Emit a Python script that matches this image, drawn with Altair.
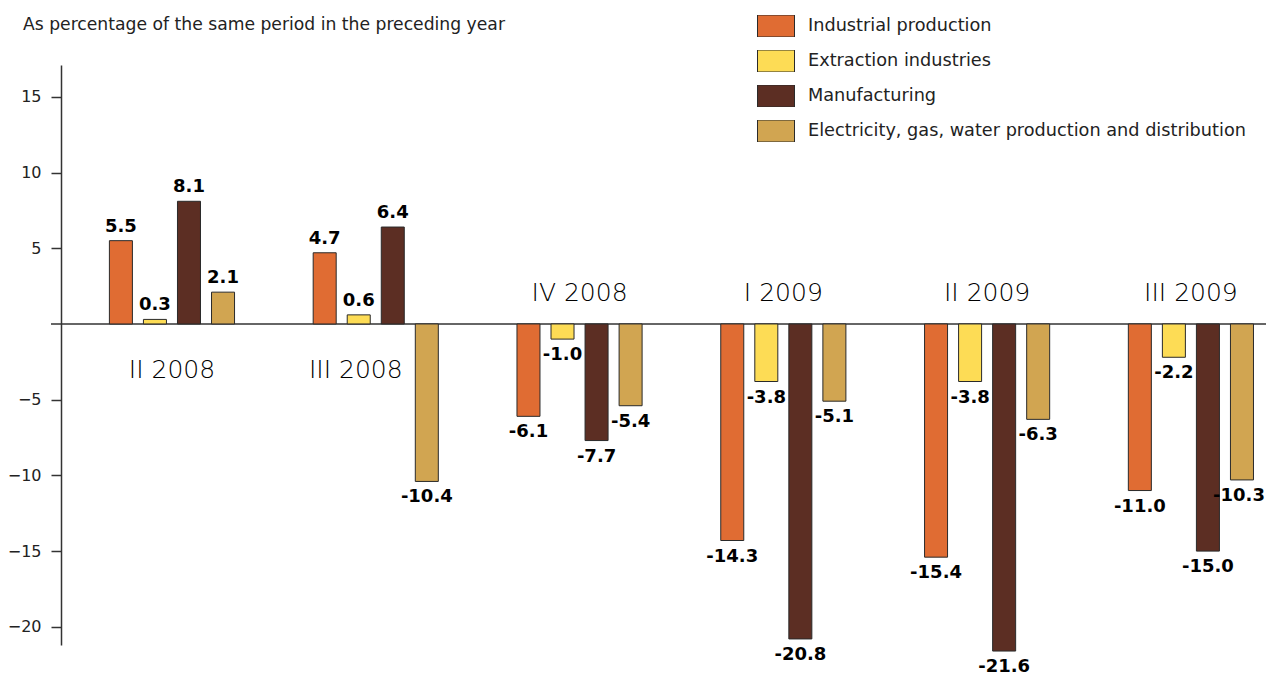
import altair as alt
import pandas as pd

quarters = ["II 2008", "III 2008", "IV 2008", "I 2009", "II 2009", "III 2009"]
series = [
    "Industrial production",
    "Extraction industries",
    "Manufacturing",
    "Electricity, gas, water production and distribution",
]
industrial = [5.5, 4.7, -6.1, -14.3, -15.4, -11.0]
extraction = [0.3, 0.6, -1.0, -3.8, -3.8, -2.2]
manufacturing = [8.1, 6.4, -7.7, -20.8, -21.6, -15.0]
electricity = [2.1, -10.4, -5.4, -5.1, -6.3, -10.3]
colors = ["#E06C33", "#FDDC55", "#5C2E23", "#D1A551"]
y_ticks = [-20, -15, -10, -5, 5, 10, 15]
subtitle = "As percentage of the same period in the preceding year"

rows = []
for s, vals in zip(series, [industrial, extraction, manufacturing, electricity]):
    for q, v in zip(quarters, vals):
        edge = "edge" if (q == quarters[-1] and s == series[-1]) else "inner"
        rows.append({"quarter": q, "series": s, "value": v, "label": f"{v:.1f}", "edge": edge})
df = pd.DataFrame(rows)

lab_df = pd.DataFrame({
    "quarter": quarters,
    "pos": ["below" if v > 0 else "above" for v in industrial],
    "shift": ["left" if e < 0 and i > 0 else "none" for i, e in zip(industrial, electricity)],
})

FONT = "DejaVu Sans"
VFONT = "DejaVu Sans"
W, H = 1205, 580

x_enc = alt.X("quarter:N", sort=quarters,
              scale=alt.Scale(paddingInner=0.263, paddingOuter=0.088, align=1),
              axis=None)
xoff_enc = alt.XOffset("series:N", sort=series,
                       scale=alt.Scale(paddingInner=0.324, paddingOuter=0.368))
y_scale = alt.Scale(domain=[-21.2, 17.1], nice=False, zero=False)

base = alt.Chart(df)

bars = base.mark_bar(stroke="#2a2a2a", strokeWidth=1, opacity=1).encode(
    x=x_enc,
    xOffset=xoff_enc,
    y=alt.Y("value:Q", scale=y_scale, title=None,
            axis=alt.Axis(values=y_ticks, grid=False, domainColor="#333",
                          domainWidth=1.5, tickColor="#333", tickWidth=1.5,
                          tickSize=10, labelFontSize=16, labelFont=FONT,
                          labelColor="#222", labelPadding=10)),
    y2=alt.datum(0),
    color=alt.Color("series:N", sort=series,
                    scale=alt.Scale(domain=series, range=colors),
                    legend=alt.Legend(
                        title=None, orient="none", legendX=696, legendY=-50,
                        symbolType="M-1,-0.595L1,-0.595L1,0.595L-1,0.595Z",
                        symbolSize=1369, symbolStrokeColor="#2a2a2a",
                        symbolStrokeWidth=1, symbolOpacity=1,
                        clipHeight=22, rowPadding=13,
                        labelFontSize=17.7, labelFont=FONT, labelColor="#222",
                        labelOffset=13, labelLimit=600)),
)

label_enc = dict(x=x_enc, xOffset=xoff_enc, y=alt.Y("value:Q", scale=y_scale), text="label:N")

pos_labels = base.transform_filter("datum.value >= 0").mark_text(
    baseline="alphabetic", dy=-9, fontWeight="bold", fontSize=18, font=VFONT, color="#000"
).encode(**label_enc)

neg_labels = base.transform_filter("datum.value < 0 && datum.edge == 'inner'").mark_text(
    baseline="alphabetic", dy=21, fontWeight="bold", fontSize=18, font=VFONT, color="#000"
).encode(**label_enc)

neg_edge_labels = base.transform_filter("datum.value < 0 && datum.edge == 'edge'").mark_text(
    baseline="alphabetic", dy=21, dx=-3, fontWeight="bold", fontSize=18, font=VFONT, color="#000"
).encode(**label_enc)

zero = alt.Chart(pd.DataFrame({"z": [0]})).mark_rule(color="#333", strokeWidth=1.5).encode(
    y=alt.Y("z:Q", scale=y_scale), x=alt.value(-10), x2=alt.value(W + 10))

lab_base = alt.Chart(lab_df)
cat_style = dict(baseline="alphabetic", fontSize=25, font=FONT, fontWeight=300, color="#000")
cat_above = lab_base.transform_filter("datum.pos == 'above'").mark_text(
    dy=-23, **cat_style).encode(x=x_enc, y=alt.datum(0), text="quarter:N")
cat_below = lab_base.transform_filter("datum.pos == 'below' && datum.shift == 'none'").mark_text(
    dy=54, **cat_style).encode(x=x_enc, y=alt.datum(0), text="quarter:N")
cat_below_shift = lab_base.transform_filter("datum.pos == 'below' && datum.shift == 'left'").mark_text(
    dy=54, dx=-20, **cat_style).encode(x=x_enc, y=alt.datum(0), text="quarter:N")

title = alt.Chart(pd.DataFrame({"t": [subtitle]})).mark_text(
    align="left", baseline="middle", fontSize=17.2, font=FONT, color="#222"
).encode(x=alt.value(-38), y=alt.value(-40), text="t:N")

chart = alt.layer(
    zero, bars, pos_labels, neg_labels, neg_edge_labels,
    cat_above, cat_below, cat_below_shift, title
).properties(
    width=W, height=H,
    autosize=alt.AutoSizeParams(type="none"),
    padding={"left": 53, "top": 57, "right": 0, "bottom": 33},
).configure_view(stroke=None)

chart.save("out.html", embed_options={"renderer": "svg", "actions": False})
